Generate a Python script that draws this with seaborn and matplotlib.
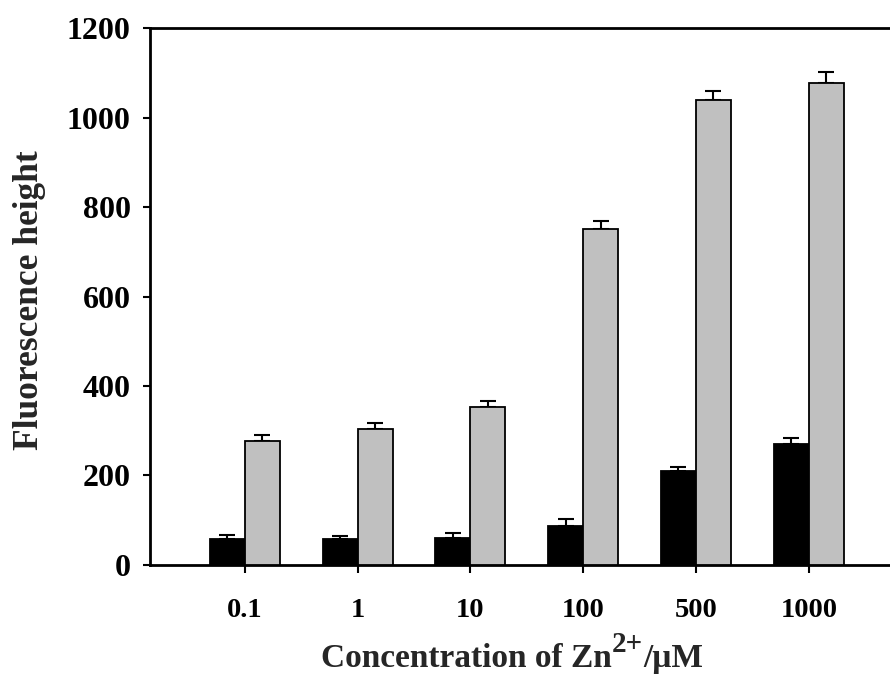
import numpy as np
import pandas as pd
import matplotlib
matplotlib.use('Agg')
import matplotlib.pyplot as plt
import seaborn as sns

# Values
concentrations = ['0.1', '1', '10', '100', '500', '1000']
black_vals = [59, 57, 61, 88, 209, 270]
black_err = [7, 7, 10, 15, 10, 13]
gray_vals = [278, 304, 354, 752, 1039, 1077]
gray_err = [12, 13, 13, 17, 20, 25]
series_names = ['black', 'gray']
y_ticks = [0, 200, 400, 600, 800, 1000, 1200]

df = pd.DataFrame({
    'Concentration': concentrations * 2,
    'Series': [series_names[0]] * len(concentrations) + [series_names[1]] * len(concentrations),
    'Fluorescence': black_vals + gray_vals,
})

sns.set_style('ticks')
plt.rcParams['font.family'] = ['Liberation Serif', 'DejaVu Serif']
plt.rcParams['font.weight'] = 'bold'

fig = plt.figure(figsize=(8.9, 6.84), dpi=100)
ax = fig.add_axes([0.1685, 0.174, 0.8315, 0.785])

sns.barplot(data=df, x='Concentration', y='Fluorescence', hue='Series',
            palette=['black', '#c0c0c0'], width=0.62, edgecolor='black',
            linewidth=1.3, errorbar=None, legend=False, ax=ax, zorder=3)

# upward-only error bars on top of each bar
for container, errs in zip(ax.containers, [black_err, gray_err]):
    for bar, e in zip(container, errs):
        xc = bar.get_x() + bar.get_width() / 2
        ax.errorbar(xc, bar.get_height(), yerr=[[0], [e]], fmt='none',
                    ecolor='black', elinewidth=1.5, capsize=5.5, capthick=1.5, zorder=2)

ax.set_ylim(0, 1200)
ax.set_xlim(-0.84, 5.72)
ax.set_yticks(y_ticks)
ax.set_xlabel('')
ax.set_ylabel('')

for side in ['left', 'bottom', 'top']:
    ax.spines[side].set_linewidth(2)
    ax.spines[side].set_color('black')
ax.spines['right'].set_visible(False)

ax.tick_params(axis='y', direction='out', length=5, width=1.5, pad=9,
               labelsize=23, colors='black')
ax.tick_params(axis='x', direction='out', length=6, width=1.5, pad=18,
               labelsize=20.5, colors='black')
for lab in ax.get_xticklabels() + ax.get_yticklabels():
    lab.set_fontweight('bold')

fig.text(30 / 890, 1 - 300 / 684, 'Fluorescence height', rotation=90,
         ha='center', va='center', fontsize=25.5, fontweight='bold')

# x label built from pieces so the "2+" superscript sits like the original
renderer = fig.canvas.get_renderer()
pieces = [('Concentration of Zn', 24, 0), ('2+', 21, 15), ('/μM', 24, 0)]
baseline_px = 667
texts = []
for s, size, raise_px in pieces:
    t = fig.text(0, 0, s, fontsize=size, fontweight='bold', ha='left', va='baseline')
    texts.append((t, raise_px))
widths = [t.get_window_extent(renderer).width for t, _ in texts]
x_px = 512 - sum(widths) / 2
for (t, raise_px), w in zip(texts, widths):
    t.set_position((x_px / 890, 1 - (baseline_px - raise_px) / 684))
    x_px += w

fig.savefig('out.png', dpi=100)
